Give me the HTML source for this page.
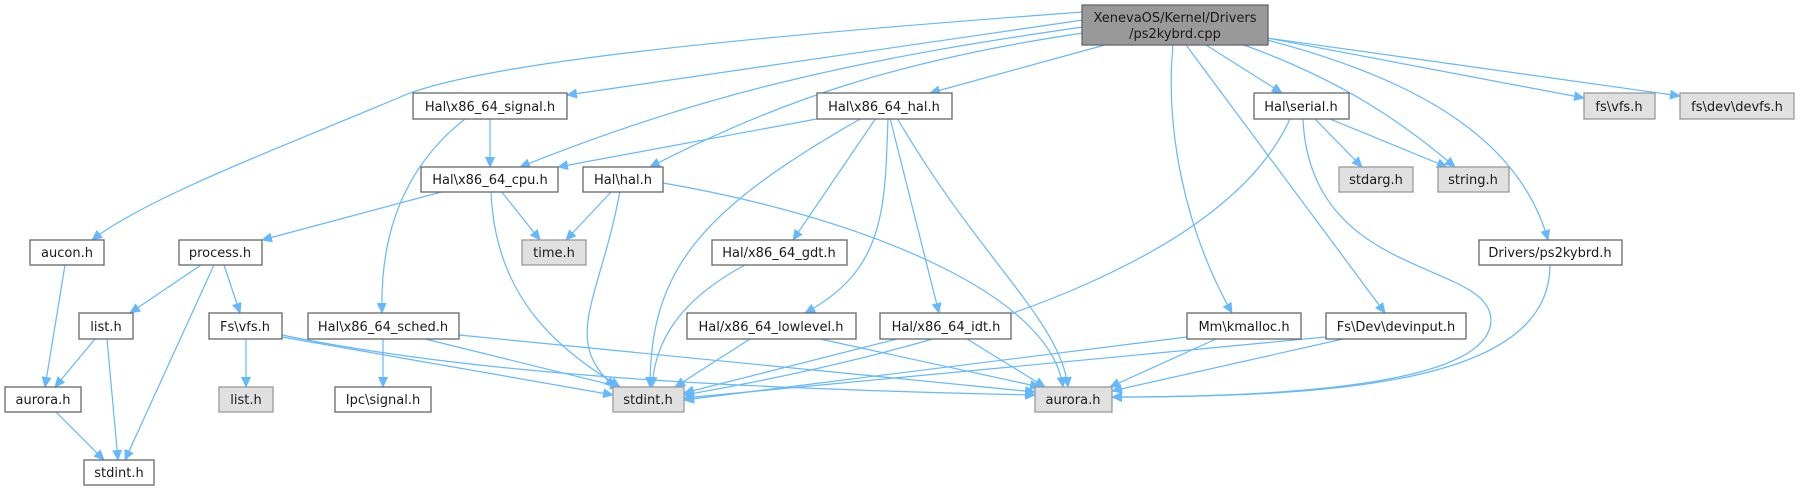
<!DOCTYPE html>
<html><head><meta charset="utf-8"><style>
html,body{margin:0;padding:0;background:#fff;}
svg{display:block;}
text{font-family:"DejaVu Sans","Liberation Sans",sans-serif;font-size:13px;fill:#1a1a1a;text-anchor:middle;}
.n{fill:#fff;stroke:#666;stroke-width:1.3;}
.g{fill:#e0e0e0;stroke:#999;stroke-width:1.3;}
.e{fill:none;stroke:#63b8ff;stroke-width:1.2;marker-end:url(#a);}
</style></head><body>
<svg width="1801" height="491" viewBox="0 0 1801 491" xmlns="http://www.w3.org/2000/svg">
<defs><marker id="a" markerWidth="11" markerHeight="10" refX="10" refY="5" orient="auto" markerUnits="userSpaceOnUse"><path d="M0,0 L11,5 L0,10 z" fill="#63b8ff"/></marker></defs>
<g>
<path class="e" d="M1083,12 C700,40 480,65 405,95 C300,140 150,195 92,240"/>
<path class="e" d="M1083,20 L567,95"/>
<path class="e" d="M1083,27 C850,60 700,95 520,167"/>
<path class="e" d="M1083,33 C900,60 780,100 650,167"/>
<path class="e" d="M1105,45 L930,93"/>
<path class="e" d="M1206,45 L1282,93"/>
<path class="e" d="M1244,45 C1340,80 1400,120 1455,167"/>
<path class="e" d="M1267,40 C1420,80 1520,140 1548,240"/>
<path class="e" d="M1267,38 L1584,98"/>
<path class="e" d="M1267,38 L1680,96"/>
<path class="e" d="M1173,45 C1165,130 1185,230 1232,313"/>
<path class="e" d="M1186,45 L1385,313"/>
<path class="e" d="M490,119 L490,167"/>
<path class="e" d="M465,119 C400,170 380,240 382,313"/>
<path class="e" d="M822,118 L558,167"/>
<path class="e" d="M862,118 C700,210 650,270 650,387"/>
<path class="e" d="M876,118 L793,240"/>
<path class="e" d="M888,118 C885,210 885,270 805,313"/>
<path class="e" d="M890,118 L939,313"/>
<path class="e" d="M897,118 C980,260 1060,320 1068,387"/>
<path class="e" d="M445,191 L262,240"/>
<path class="e" d="M501,191 L540,240"/>
<path class="e" d="M491,191 C495,300 560,350 620,387"/>
<path class="e" d="M612,191 L566,240"/>
<path class="e" d="M620,191 C600,300 560,340 615,387"/>
<path class="e" d="M663,183 C850,215 1050,290 1063,387"/>
<path class="e" d="M201,265 L130,313"/>
<path class="e" d="M224,265 L240,313"/>
<path class="e" d="M214,265 L125,460"/>
<path class="e" d="M65,265 L45,387"/>
<path class="e" d="M95,339 L55,387"/>
<path class="e" d="M107,339 L118,460"/>
<path class="e" d="M56,412 L104,460"/>
<path class="e" d="M246,339 L246,387"/>
<path class="e" d="M282,337 L613,395"/>
<path class="e" d="M282,335 C500,380 800,390 1035,395"/>
<path class="e" d="M383,339 L383,387"/>
<path class="e" d="M425,339 L620,387"/>
<path class="e" d="M459,335 L1035,392"/>
<path class="e" d="M745,265 C680,300 655,340 652,387"/>
<path class="e" d="M750,339 L675,387"/>
<path class="e" d="M820,339 L1040,387"/>
<path class="e" d="M897,339 L684,393"/>
<path class="e" d="M967,339 L1045,387"/>
<path class="e" d="M1290,119 C1230,250 1000,340 684,395"/>
<path class="e" d="M1303,119 C1310,280 1490,260 1491,320 C1490,390 1250,397 1112,397"/>
<path class="e" d="M1315,119 L1362,167"/>
<path class="e" d="M1330,119 L1447,167"/>
<path class="e" d="M1187,337 L684,400"/>
<path class="e" d="M1216,339 L1110,387"/>
<path class="e" d="M1326,337 L684,398"/>
<path class="e" d="M1343,339 L1112,391"/>
<path class="e" d="M1550,265 C1550,380 1350,397 1112,397"/>
</g>
<rect x="1082" y="5" width="186" height="40" fill="#999" stroke="#666" stroke-width="1.3"/>
<text x="1175" y="22">XenevaOS/Kernel/Drivers</text>
<text x="1175" y="38">/ps2kybrd.cpp</text>
<rect class="n" x="413" y="93" width="154" height="26"/><text x="490" y="111">Hal\x86_64_signal.h</text>
<rect class="n" x="817" y="93" width="135" height="26"/><text x="884" y="111">Hal\x86_64_hal.h</text>
<rect class="n" x="1254" y="93" width="95" height="26"/><text x="1301" y="111">Hal\serial.h</text>
<rect class="g" x="1584" y="93" width="71" height="26"/><text x="1619" y="111">fs\vfs.h</text>
<rect class="g" x="1680" y="93" width="114" height="26"/><text x="1737" y="111">fs\dev\devfs.h</text>
<rect class="n" x="421" y="167" width="137" height="25"/><text x="490" y="184">Hal\x86_64_cpu.h</text>
<rect class="n" x="583" y="167" width="80" height="25"/><text x="623" y="184">Hal\hal.h</text>
<rect class="g" x="1339" y="167" width="74" height="25"/><text x="1376" y="184">stdarg.h</text>
<rect class="g" x="1438" y="167" width="71" height="25"/><text x="1473" y="184">string.h</text>
<rect class="n" x="30" y="240" width="74" height="25"/><text x="67" y="257">aucon.h</text>
<rect class="n" x="179" y="240" width="83" height="25"/><text x="220" y="257">process.h</text>
<rect class="g" x="522" y="240" width="64" height="25"/><text x="554" y="257">time.h</text>
<rect class="n" x="712" y="240" width="135" height="25"/><text x="779" y="257">Hal/x86_64_gdt.h</text>
<rect class="n" x="1479" y="240" width="143" height="25"/><text x="1550" y="257">Drivers/ps2kybrd.h</text>
<rect class="n" x="79" y="313" width="54" height="26"/><text x="106" y="331">list.h</text>
<rect class="n" x="209" y="313" width="73" height="26"/><text x="245" y="331">Fs\vfs.h</text>
<rect class="n" x="308" y="313" width="151" height="26"/><text x="383" y="331">Hal\x86_64_sched.h</text>
<rect class="n" x="687" y="313" width="169" height="26"/><text x="771" y="331">Hal/x86_64_lowlevel.h</text>
<rect class="n" x="880" y="313" width="131" height="26"/><text x="946" y="331">Hal/x86_64_idt.h</text>
<rect class="n" x="1187" y="313" width="114" height="26"/><text x="1244" y="331">Mm\kmalloc.h</text>
<rect class="n" x="1326" y="313" width="140" height="26"/><text x="1396" y="331">Fs\Dev\devinput.h</text>
<rect class="n" x="5" y="387" width="76" height="25"/><text x="43" y="404">aurora.h</text>
<rect class="g" x="219" y="387" width="54" height="25"/><text x="246" y="404">list.h</text>
<rect class="n" x="335" y="387" width="96" height="25"/><text x="383" y="404">Ipc\signal.h</text>
<rect class="g" x="613" y="387" width="71" height="25"/><text x="648" y="404">stdint.h</text>
<rect class="g" x="1035" y="387" width="77" height="25"/><text x="1073" y="404">aurora.h</text>
<rect class="n" x="84" y="460" width="70" height="25"/><text x="119" y="477">stdint.h</text>
</svg>
</body></html>
